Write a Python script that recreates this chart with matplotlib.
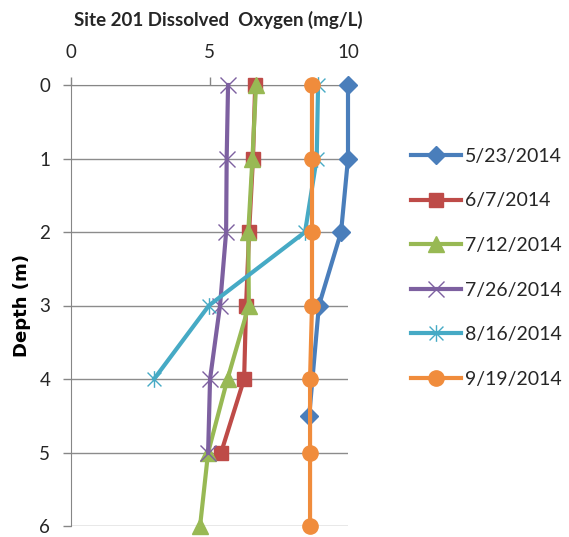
import matplotlib.pyplot as plt
from matplotlib.path import Path

plt.rcParams['font.family'] = ['Lato', 'DejaVu Sans']

# dissolved oxygen (mg/L) by depth (m) for each sampling date
dates = ['5/23/2014', '6/7/2014', '7/12/2014', '7/26/2014', '8/16/2014', '9/19/2014']

depth_0523 = [0, 1, 2, 3, 4.5]
do_0523 = [10.0, 10.0, 9.75, 8.95, 8.6]

depth_0607 = [0, 1, 2, 3, 4, 5]
do_0607 = [6.65, 6.57, 6.43, 6.32, 6.25, 5.42]

depth_0712 = [0, 1, 2, 3, 4, 5, 6]
do_0712 = [6.68, 6.55, 6.4, 6.42, 5.65, 4.95, 4.66]

depth_0726 = [0, 1, 2, 3, 4, 5]
do_0726 = [5.67, 5.62, 5.6, 5.38, 5.02, 4.95]

depth_0816 = [0, 1, 2, 3, 4]
do_0816 = [8.92, 8.87, 8.45, 4.98, 3.0]

depth_0919 = [0, 1, 2, 3, 4, 5, 6]
do_0919 = [8.7, 8.7, 8.7, 8.7, 8.63, 8.63, 8.63]

# excel style "star": an x with a vertical stroke through it
star = Path([(-1, -1), (1, 1), (-1, 1), (1, -1), (0, -1.2), (0, 1.2)],
            [Path.MOVETO, Path.LINETO, Path.MOVETO, Path.LINETO, Path.MOVETO, Path.LINETO])

series = [
    (depth_0523, do_0523, '#4A7EBB', 'D', 9, True),
    (depth_0607, do_0607, '#BE4B48', 's', 10, True),
    (depth_0712, do_0712, '#98B954', '^', 11, True),
    (depth_0726, do_0726, '#7D60A0', 'x', 12, False),
    (depth_0816, do_0816, '#46AAC5', star, 12, False),
    (depth_0919, do_0919, '#F08C3C', 'o', 11, True),
]

fig = plt.figure(figsize=(5.69, 5.37), dpi=100)
ax = fig.add_axes([71 / 569, 11 / 537, 277 / 569, 441 / 537])

for (d, v, col, mk, ms, filled), lab in zip(series, dates):
    if filled:
        ax.plot(v, d, color=col, lw=3, marker=mk, ms=ms, mec=col, mfc=col,
                label=lab, clip_on=False, zorder=3)
    else:
        ax.plot(v, d, color=col, lw=3, marker=mk, ms=ms, mec=col, mfc='none',
                mew=1, label=lab, clip_on=False, zorder=3)

ax.set_xlim(0, 10)
ax.set_ylim(6, 0)
ax.set_xticks([0, 5, 10])
ax.set_yticks(range(7))
ax.xaxis.tick_top()
ax.tick_params(axis='x', length=6, width=1, color='#868686', pad=11,
               labelsize=13.5, labelcolor='#262626')
ax.tick_params(axis='y', length=6, width=1, color='#868686', pad=9,
               labelsize=13.5, labelcolor='#262626')
ax.yaxis.grid(True, color='#8C8C8C', lw=1)
ax.set_axisbelow(True)
for side in ['right', 'bottom']:
    ax.spines[side].set_visible(False)
for side in ['left', 'top']:
    ax.spines[side].set_color('#868686')

ax.set_ylabel('Depth (m)', fontsize=13, fontweight='bold', labelpad=6,
              family='DejaVu Sans')
fig.text(218 / 569, 1 - 20 / 537, 'Site 201 Dissolved  Oxygen (mg/L)',
         ha='center', va='center', fontsize=13.5, fontweight='bold', color='#262626')

fig.legend(loc='upper left', bbox_to_anchor=(401 / 569, 1 - 138 / 537),
           frameon=False, fontsize=14, handlelength=2.6, handletextpad=0.2,
           labelspacing=1.42, borderpad=0, labelcolor='#262626')

fig.savefig('out.png', dpi=100)
